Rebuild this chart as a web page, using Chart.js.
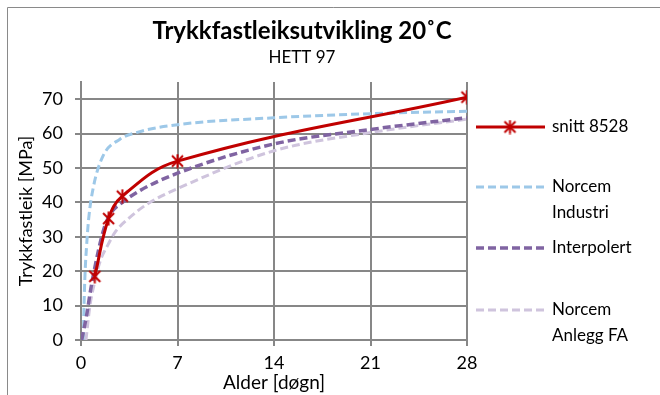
<!DOCTYPE html>
<html>
<head>
<meta charset="utf-8">
<script src="https://cdn.jsdelivr.net/npm/chart.js@4"></script>
<style>
  html, body { margin: 0; padding: 0; background: #fff; }
  #wrap { position: relative; width: 660px; height: 395px; }
</style>
</head>
<body>
<div id="wrap"><canvas id="chart" width="660" height="395"></canvas></div>
<script>
// data
const xTicks = [0, 7, 14, 21, 28];

const snittX = [1, 2, 3, 7, 28];
const snittY = [18.5, 35.3, 41.8, 52, 70.6];

const industriX = [0.17, 0.22, 0.3, 0.4, 0.55, 0.9, 1.6, 2.8, 4.2, 7, 14, 21, 28];
const industriY = [0, 10, 20, 27, 35, 44.5, 53.5, 58.3, 60.5, 62.6, 64.6, 65.8, 66.5];

const interpX = [0.05, 0.4, 0.7, 1, 1.6, 2.1, 3, 4.3, 7, 14, 21, 28];
const interpY = [0, 7, 14.6, 21, 31.5, 36.5, 40, 43.5, 48.5, 57, 61.2, 64.6];

const anleggX = [0.36, 0.65, 1, 1.4, 2, 2.5, 3.5, 4.8, 7, 14, 21, 28];
const anleggY = [0, 10, 17, 23, 28, 31.5, 35.5, 39.5, 44, 55, 60.3, 64.2];

const FONT = 'Lato';
const GRID_DARK = '#878787';
const GRID_LIGHT = '#c4c4c4';

function pts(xs, ys) {
  return xs.map((x, i) => ({ x: x, y: ys[i] }));
}

// star marker like the one Excel uses: X plus a vertical stroke
function makeStar(size, color) {
  const c = document.createElement('canvas');
  c.width = size; c.height = size;
  const g = c.getContext('2d');
  g.strokeStyle = color;
  g.lineWidth = 2;
  const m = 2, h = size / 2;
  g.beginPath();
  g.moveTo(m, m); g.lineTo(size - m, size - m);
  g.moveTo(size - m, m); g.lineTo(m, size - m);
  g.moveTo(h, 0.5); g.lineTo(h, size - 0.5);
  g.stroke();
  return c;
}
const star = makeStar(15, '#c00000');

// legend entries (drawn by hand so the labels can wrap like the original)
const legendItems = [
  { ds: 0, lines: ['snitt 8528'], y: 127 },
  { ds: 1, lines: ['Norcem', 'Industri'], y: 187 },
  { ds: 2, lines: ['Interpolert'], y: 248 },
  { ds: 3, lines: ['Norcem', 'Anlegg FA'], y: 310 }
];

const decorPlugin = {
  id: 'decor',
  beforeDraw(chart) {
    const ctx = chart.ctx;
    ctx.save();
    ctx.fillStyle = '#fff';
    ctx.fillRect(0, 0, chart.width, chart.height);
    // outer chart frame (only left and top edges are visible in the crop)
    ctx.strokeStyle = '#8a8a8a';
    ctx.lineWidth = 1;
    ctx.beginPath();
    ctx.moveTo(7.5, chart.height);
    ctx.lineTo(7.5, 7.5);
    ctx.lineTo(chart.width, 7.5);
    ctx.stroke();
    ctx.restore();
  },
  afterDraw(chart) {
    const ctx = chart.ctx;
    ctx.save();
    // title + subtitle
    ctx.fillStyle = '#000';
    ctx.textAlign = 'center';
    ctx.textBaseline = 'middle';
    ctx.font = 'bold 24px ' + FONT;
    ctx.fillText('Trykkfastleiksutvikling 20˚C', 302, 31);
    ctx.font = '17px ' + FONT;
    ctx.fillText('HETT 97', 302, 58);

    // legend
    legendItems.forEach(item => {
      const ds = chart.data.datasets[item.ds];
      ctx.strokeStyle = ds.borderColor;
      ctx.lineWidth = ds.borderWidth;
      ctx.setLineDash(ds.borderDash || []);
      ctx.beginPath();
      ctx.moveTo(476, item.y);
      ctx.lineTo(545, item.y);
      ctx.stroke();
      ctx.setLineDash([]);
      if (item.ds === 0) {
        ctx.drawImage(star, 510 - 7.5, item.y - 7.5);
      }
      ctx.fillStyle = '#000';
      ctx.textAlign = 'left';
      ctx.font = '17px ' + FONT;
      item.lines.forEach((t, i) => ctx.fillText(t, 552, item.y + i * 26));
    });
    ctx.restore();
  }
};

const isMajor = v => v % 10 === 0 || v === 75;

const config = {
  type: 'line',
  data: {
    datasets: [
      {
        label: 'snitt 8528',
        data: pts(snittX, snittY),
        borderColor: '#c00000',
        borderWidth: 3,
        tension: 0.4,
        pointStyle: star,
        pointRadius: 7,
        order: 0
      },
      {
        label: 'Norcem Industri',
        data: pts(industriX, industriY),
        borderColor: '#9dc8e8',
        borderWidth: 3,
        borderDash: [8, 4],
        cubicInterpolationMode: 'monotone',
        pointRadius: 0,
        order: 3
      },
      {
        label: 'Interpolert',
        data: pts(interpX, interpY),
        borderColor: '#8064a2',
        borderWidth: 3.5,
        borderDash: [8, 4],
        cubicInterpolationMode: 'monotone',
        pointRadius: 0,
        order: 1
      },
      {
        label: 'Norcem Anlegg FA',
        data: pts(anleggX, anleggY),
        borderColor: '#cfc4dd',
        borderWidth: 3,
        borderDash: [8, 4],
        cubicInterpolationMode: 'monotone',
        pointRadius: 0,
        order: 2
      }
    ]
  },
  options: {
    responsive: false,
    animation: false,
    layout: { padding: { left: 0, top: 82, right: 193, bottom: 0 } },
    plugins: {
      legend: { display: false },
      title: { display: false },
      tooltip: { enabled: false }
    },
    scales: {
      x: {
        type: 'linear',
        min: 0,
        max: 28,
        afterFit: s => { s.height = 55; },
        afterBuildTicks: s => { s.ticks = xTicks.map(v => ({ value: v })); },
        ticks: { color: '#000', font: { family: FONT, size: 18 }, padding: 6, maxRotation: 0 },
        grid: { color: GRID_DARK, lineWidth: 2, tickLength: 6 },
        border: { color: GRID_DARK, width: 2 },
        title: {
          display: true,
          text: 'Alder [døgn]',
          color: '#000',
          font: { family: FONT, size: 19 },
          padding: { top: 0, bottom: 1 }
        }
      },
      y: {
        min: 0,
        max: 75,
        afterFit: s => { s.width = 81; },
        ticks: {
          stepSize: 5,
          color: '#000',
          font: { family: FONT, size: 18 },
          padding: 12,
          callback: v => (v % 10 === 0 ? v : '')
        },
        grid: {
          color: c => (isMajor(c.tick.value) ? GRID_DARK : GRID_LIGHT),
          lineWidth: c => (isMajor(c.tick.value) ? 2 : 1.5),
          tickColor: c => (c.tick.value % 10 === 0 ? GRID_DARK : 'rgba(0,0,0,0)'),
          tickLength: 6
        },
        border: { color: GRID_DARK, width: 2 },
        title: {
          display: true,
          text: 'Trykkfastleik [MPa]',
          color: '#000',
          font: { family: FONT, size: 18 },
          padding: { top: 15, bottom: 0 }
        }
      }
    }
  },
  plugins: [decorPlugin]
};

new Chart(document.getElementById('chart').getContext('2d'), config);
</script>
</body>
</html>
